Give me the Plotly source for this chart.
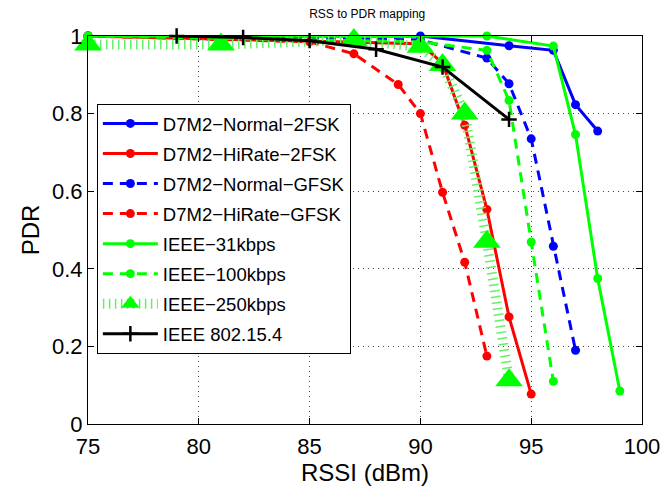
import plotly.graph_objects as go

# RSSI sweep points (dBm) and measured packet delivery ratio per configuration
rssi_normal_2fsk = [75, 90, 94, 96, 97, 98]
pdr_normal_2fsk = [1.0, 1.0, 0.975, 0.963, 0.823, 0.755]

rssi_hirate_2fsk = [75, 90, 91, 92, 93, 94, 95]
pdr_hirate_2fsk = [1.0, 0.98, 0.93, 0.77, 0.553, 0.276, 0.077]

rssi_normal_gfsk = [75, 90, 93, 94, 95, 96, 97]
pdr_normal_gfsk = [1.0, 0.99, 0.943, 0.877, 0.735, 0.458, 0.19]

rssi_hirate_gfsk = [75, 85, 87, 89, 90, 91, 92, 93]
pdr_hirate_gfsk = [1.0, 0.985, 0.954, 0.875, 0.80, 0.597, 0.417, 0.175]

rssi_ieee_31k = [75, 93, 96, 97, 98, 99]
pdr_ieee_31k = [1.0, 1.0, 0.974, 0.746, 0.375, 0.085]

rssi_ieee_100k = [75, 90, 93, 94, 95, 96]
pdr_ieee_100k = [1.0, 0.985, 0.963, 0.834, 0.469, 0.11]

rssi_ieee_250k = [75, 81, 87, 90, 91, 92, 93, 94]
pdr_ieee_250k = [0.978, 0.978, 0.99, 0.972, 0.925, 0.80, 0.47, 0.113]

rssi_ieee_802154 = [79, 82, 85, 88, 91, 94]
pdr_ieee_802154 = [1.0, 0.996, 0.988, 0.966, 0.92, 0.785]

x_ticks = [75, 80, 85, 90, 95, 100]
y_ticks = [0, 0.2, 0.4, 0.6, 0.8, 1]
y_tick_text = ["0", "0.2", "0.4", "0.6", "0.8", "1"]

BLUE = "#0000ff"
RED = "#ff0000"
GREEN = "#00ff00"
FONT = "Liberation Sans, Arial, sans-serif"

fig = go.Figure()


def add_curve(x, y, name, color, dash="solid", symbol="circle", msize=9,
              lwidth=3, lcolor=None, mline=0):
    fig.add_trace(go.Scatter(
        x=x, y=y, name=name, mode="lines+markers",
        legendgroup=name, cliponaxis=False,
        line=dict(color=lcolor or color, width=lwidth, dash=dash),
        marker=dict(symbol=symbol, size=msize, color=color,
                    line=dict(color=color, width=mline)),
    ))


add_curve(rssi_normal_2fsk, pdr_normal_2fsk, "D7M2\u2212Normal\u22122FSK", BLUE)
add_curve(rssi_hirate_2fsk, pdr_hirate_2fsk, "D7M2\u2212HiRate\u22122FSK", RED)
add_curve(rssi_normal_gfsk, pdr_normal_gfsk, "D7M2\u2212Normal\u2212GFSK", BLUE, dash="10px,7px")
add_curve(rssi_hirate_gfsk, pdr_hirate_gfsk, "D7M2\u2212HiRate\u2212GFSK", RED, dash="10px,7px")
add_curve(rssi_ieee_31k, pdr_ieee_31k, "IEEE\u221231kbps", GREEN)
add_curve(rssi_ieee_100k, pdr_ieee_100k, "IEEE\u2212100kbps", GREEN, dash="10px,7px")
add_curve(rssi_ieee_250k, pdr_ieee_250k, "IEEE\u2212250kbps", GREEN, dash="1.5px,4.5px",
          symbol="triangle-up", msize=24, lwidth=10, lcolor="#66f066")
add_curve(rssi_ieee_802154, pdr_ieee_802154, "IEEE 802.15.4", "#000000",
          symbol="cross-thin", msize=11, mline=2.5)

axis_common = dict(
    showline=True, linecolor="black", linewidth=1, mirror="ticks",
    ticks="inside", ticklen=6, tickcolor="black",
    showgrid=True, gridcolor="#444444", gridwidth=1, griddash="1px,4px",
    zeroline=False,
    tickfont=dict(family=FONT, size=22, color="black"),
)

fig.update_layout(
    width=672, height=489,
    margin=dict(l=88, r=25, t=36, b=65),
    paper_bgcolor="white", plot_bgcolor="white",
    font=dict(family=FONT, color="black"),
    title=dict(text="RSS to PDR mapping", x=0.5465, xanchor="center",
               y=0.972, yanchor="middle",
               font=dict(family=FONT, size=12, color="black")),
    xaxis=dict(range=[75, 100], tickvals=x_ticks, ticklabelstandoff=3,
               title=dict(text="RSSI (dBm)", standoff=0,
                          font=dict(family=FONT, size=24)),
               **axis_common),
    yaxis=dict(range=[0, 1], tickvals=y_ticks, ticktext=y_tick_text,
               title=dict(text="PDR", standoff=5,
                          font=dict(family=FONT, size=24)),
               **axis_common),
    legend=dict(x=0.016, y=0.825, xanchor="left", yanchor="top",
                bgcolor="white", bordercolor="black", borderwidth=1,
                font=dict(family=FONT, size=18.5, color="black"),
                traceorder="grouped", tracegroupgap=3, itemwidth=55),
    showlegend=True,
)

fig.write_html("out.html")
